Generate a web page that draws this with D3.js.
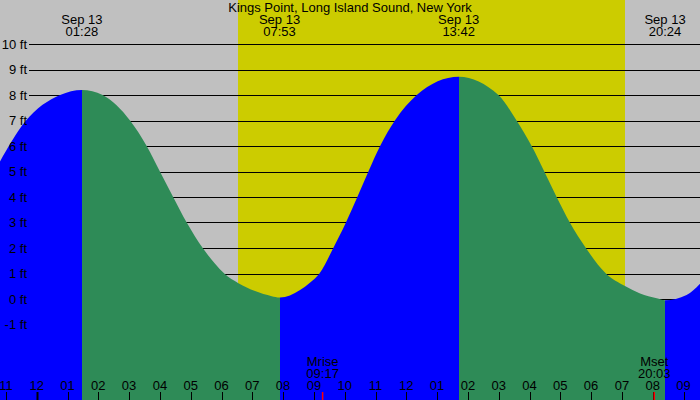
<!DOCTYPE html>
<html>
<head>
<meta charset="utf-8">
<script src="https://cdn.jsdelivr.net/npm/d3@7"></script>
<style>
  html, body { margin: 0; padding: 0; background: #fff; }
  svg { display: block; }
  text { font-family: "Liberation Sans", Arial, sans-serif; font-size: 13px; fill: #000; }
</style>
</head>
<body>
<svg id="chart" width="700" height="400"></svg>
<script>
// ---------- data ----------
const chartTitle = "Kings Point, Long Island Sound, New York";
const dateLabel = "Sep 13";

// tide curve (hours after midnight Sep 13, feet)
const tideHours = [-1.25, -0.38, 0.76, 1.47, 2.14, 3.03, 3.57, 4.00, 4.43, 4.87, 5.39, 5.79, 6.09, 6.55, 7.09, 7.63, 7.88,
                   8.22, 8.55, 8.87, 9.18, 9.63, 10.04, 10.41, 10.77, 11.15, 11.63, 12.34, 13.70,
                   14.99, 15.58, 16.07, 16.48, 16.88, 17.31, 17.83, 18.48, 19.10, 19.59, 20.13, 20.40, 21.10, 21.60];
const tideFeet  = [5.27, 6.95, 8.00, 8.20, 8.00, 7.0, 6.0, 5.0, 4.0, 3.0, 2.0, 1.38, 1.0, 0.62, 0.31, 0.11, 0.06,
                   0.14, 0.35, 0.64, 1.0, 2.0, 3.0, 4.0, 5.0, 6.0, 7.0, 8.0, 8.72,
                   8.0, 7.0, 6.0, 5.0, 4.0, 3.0, 2.0, 1.0, 0.51, 0.22, 0.03, -0.05, 0.16, 0.68];

// high / low tide times
const extremeTimes = ["01:28", "07:53", "13:42", "20:24"];
const extremeTypes = ["high", "low", "high", "low"];

// daylight
const sunriseTime = "06:32";
const sunsetTime = "19:06";

// moon events
const moonLabels = ["Mrise", "Mset"];
const moonTimes = ["09:17", "20:03"];

// axes
const feetTicks = [-1, 0, 1, 2, 3, 4, 5, 6, 7, 8, 9, 10];
const hourTicks = d3.range(-1, 22);

// ---------- helpers ----------
const toHours = s => { const [h, m] = s.split(":").map(Number); return h + m / 60; };
const hourLabel = h => { let v = ((h % 12) + 12) % 12; if (v === 0) v = 12; return String(v).padStart(2, "0"); };

// ---------- layout ----------
const W = 700, H = 400;
const svg = d3.select("#chart");
const x = d3.scaleLinear().domain([0, 24]).range([36.7, 36.7 + 24 * 30.8]);
const y = d3.scaleLinear().domain([0, 10]).range([299, 44]);

const colGray = "#c0c0c0", colDay = "#cccc00", colRise = "#0000ff", colFall = "#2e8b57";

// background
svg.append("rect").attr("x", 0).attr("y", 0).attr("width", W).attr("height", H).attr("fill", colGray);
const xs = Math.round(x(toHours(sunriseTime))), xe = Math.round(x(toHours(sunsetTime)));
svg.append("rect").attr("x", xs).attr("y", 0).attr("width", xe - xs).attr("height", H).attr("fill", colDay);

// grid lines
svg.append("g").selectAll("line").data(feetTicks).join("line")
  .attr("x1", 29).attr("x2", W)
  .attr("y1", d => Math.round(y(d)) + 0.5).attr("y2", d => Math.round(y(d)) + 0.5)
  .attr("stroke", "#000").attr("stroke-width", 1);

// tide area, coloured by rising / falling segments
const tide = tideHours.map((h, i) => ({ h, v: tideFeet[i] }));
const area = d3.area().curve(d3.curveMonotoneX)
  .x(d => x(d.h)).y0(H).y1(d => y(d.v));
const bounds = [-10, ...extremeTimes.map(toHours), 40];
const defs = svg.append("defs");
for (let i = 0; i < bounds.length - 1; i++) {
  const a = Math.max(-5, Math.round(x(bounds[i])));
  const b = Math.min(W + 5, Math.round(x(bounds[i + 1])));
  const id = "seg" + i;
  defs.append("clipPath").attr("id", id).append("rect")
    .attr("x", a).attr("y", 0).attr("width", Math.max(0, b - a)).attr("height", H);
  // segment before a high is rising; before a low is falling
  const rising = i < extremeTypes.length ? extremeTypes[i] === "high" : extremeTypes[extremeTypes.length - 1] === "low";
  svg.append("path").datum(tide).attr("d", area)
    .attr("fill", rising ? colRise : colFall)
    .attr("clip-path", `url(#${id})`);
}

// left labels
svg.append("g").selectAll("text").data(feetTicks).join("text")
  .attr("x", 27).attr("y", d => y(d)).attr("dy", "0.35em")
  .attr("text-anchor", "end").text(d => d + " ft");

// title
svg.append("text").attr("x", 350).attr("y", 12).attr("text-anchor", "middle").text(chartTitle);

// extreme labels
const ext = svg.append("g").selectAll("g").data(extremeTimes).join("g")
  .attr("transform", d => `translate(${x(toHours(d))},0)`);
ext.append("text").attr("y", 24).attr("text-anchor", "middle").text(dateLabel);
ext.append("text").attr("y", 36).attr("text-anchor", "middle").text(d => d);

// hour ticks and labels
const ht = svg.append("g");
ht.selectAll("line").data(hourTicks).join("line")
  .attr("x1", d => Math.round(x(d)) + 0.5).attr("x2", d => Math.round(x(d)) + 0.5)
  .attr("y1", 392).attr("y2", H)
  .attr("stroke", "#000").attr("stroke-width", d => d % 24 === 0 ? 2 : 1);
ht.selectAll("text").data(hourTicks).join("text")
  .attr("x", d => x(d)).attr("y", 389.5).attr("text-anchor", "middle").text(hourLabel);

// moon events
const mg = svg.append("g").selectAll("g").data(moonTimes).join("g")
  .attr("transform", d => `translate(${x(toHours(d))},0)`);
mg.append("text").attr("y", 366).attr("text-anchor", "middle").text((d, i) => moonLabels[i]);
mg.append("text").attr("y", 378).attr("text-anchor", "middle").text(d => d);
mg.append("line").attr("x1", 0).attr("x2", 0).attr("y1", 392).attr("y2", H)
  .attr("stroke", "#ff0000").attr("stroke-width", 1.5);
</script>
</body>
</html>
